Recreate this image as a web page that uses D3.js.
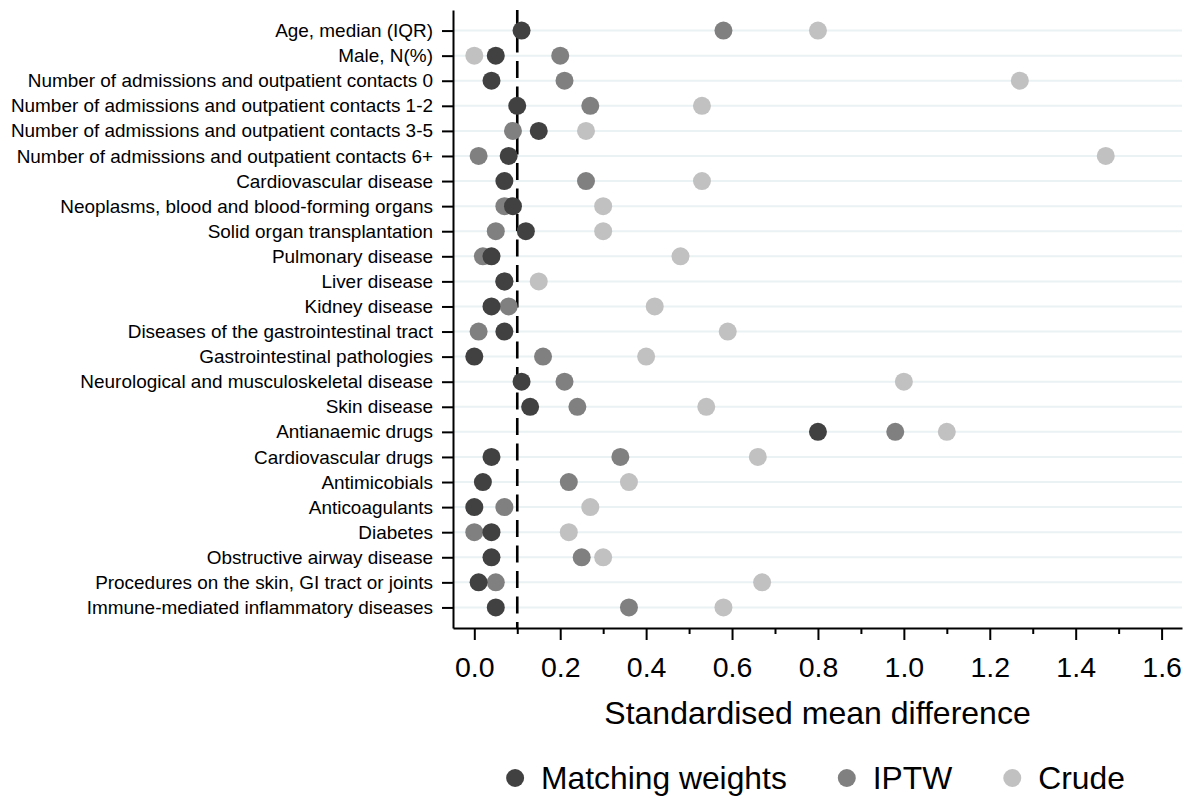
<!DOCTYPE html>
<html>
<head>
<meta charset="utf-8">
<script src="https://cdn.jsdelivr.net/npm/d3@7"></script>
<style>
  body { margin: 0; background: #fff; }
  text { font-family: "Liberation Sans", Arial, sans-serif; fill: #000; }
</style>
</head>
<body>
<div id="chart"></div>
<script>
const categories = [
  'Age, median (IQR)',
  'Male, N(%)',
  'Number of admissions and outpatient contacts 0',
  'Number of admissions and outpatient contacts 1-2',
  'Number of admissions and outpatient contacts 3-5',
  'Number of admissions and outpatient contacts 6+',
  'Cardiovascular disease',
  'Neoplasms, blood and blood-forming organs',
  'Solid organ transplantation',
  'Pulmonary disease',
  'Liver disease',
  'Kidney disease',
  'Diseases of the gastrointestinal tract',
  'Gastrointestinal pathologies',
  'Neurological and musculoskeletal disease',
  'Skin disease',
  'Antianaemic drugs',
  'Cardiovascular drugs',
  'Antimicobials',
  'Anticoagulants',
  'Diabetes',
  'Obstructive airway disease',
  'Procedures on the skin, GI tract or joints',
  'Immune-mediated inflammatory diseases'
];

const matching = [0.11, 0.05, 0.04, 0.10, 0.15, 0.08, 0.07, 0.09, 0.12, 0.04, 0.07, 0.04,
  0.07, 0.00, 0.11, 0.13, 0.80, 0.04, 0.02, 0.00, 0.04, 0.04, 0.01, 0.05];
const iptw = [0.58, 0.20, 0.21, 0.27, 0.09, 0.01, 0.26, 0.07, 0.05, 0.02, 0.07, 0.08,
  0.01, 0.16, 0.21, 0.24, 0.98, 0.34, 0.22, 0.07, 0.00, 0.25, 0.05, 0.36];
const crude = [0.80, 0.00, 1.27, 0.53, 0.26, 1.47, 0.53, 0.30, 0.30, 0.48, 0.15, 0.42,
  0.59, 0.40, 1.00, 0.54, 1.10, 0.66, 0.36, 0.27, 0.22, 0.30, 0.67, 0.58];

const seriesNames = ['Matching weights', 'IPTW', 'Crude'];
const majorTicks = [0, 0.2, 0.4, 0.6, 0.8, 1.0, 1.2, 1.4, 1.6];
const minorTicks = [0.1, 0.3, 0.5, 0.7, 0.9, 1.1, 1.3, 1.5];
const threshold = 0.1;

const width = 1195, height = 797;
const plotLeft = 453, plotRight = 1182, plotTop = 10, plotBottom = 628;
const colors = { 'Matching weights': '#414141', 'IPTW': '#808080', 'Crude': '#c1c1c1' };

const svg = d3.select('#chart')
  .append('svg')
  .attr('width', width)
  .attr('height', height);

// x(0) sits ~21px right of the y axis, 1.6 sits ~20px left of the right edge
const x = d3.scaleLinear()
  .domain([-0.0496, 1.6475])
  .range([plotLeft, plotRight]);

const y = d3.scalePoint()
  .domain(categories)
  .range([plotTop, plotBottom])
  .padding(0.82);

// light row guides
svg.append('g')
  .selectAll('line')
  .data(categories)
  .join('line')
  .attr('x1', plotLeft)
  .attr('x2', plotRight)
  .attr('y1', d => y(d))
  .attr('y2', d => y(d))
  .attr('stroke', '#eaf2f4')
  .attr('stroke-width', 2);

// reference line at 0.1, sits under the points
svg.append('line')
  .attr('x1', x(threshold))
  .attr('x2', x(threshold))
  .attr('y1', plotTop)
  .attr('y2', plotBottom)
  .attr('stroke', '#000')
  .attr('stroke-width', 2.6)
  .attr('stroke-dasharray', '17,8.5');

// y axis
const yAxis = svg.append('g')
  .attr('transform', `translate(${plotLeft},0)`)
  .call(d3.axisLeft(y).tickSize(11).tickSizeOuter(0).tickPadding(9));
yAxis.select('.domain').attr('stroke-width', 2);
yAxis.selectAll('.tick line').attr('stroke-width', 2);
yAxis.selectAll('.tick text')
  .style('font-size', '18.95px')
  .style('font-family', '"Liberation Sans", Arial, sans-serif')
  .attr('fill', '#000');

// x axis, minor ticks first then major ticks with labels
const xMinor = svg.append('g')
  .attr('transform', `translate(0,${plotBottom})`)
  .call(d3.axisBottom(x).tickValues(minorTicks).tickSize(6).tickSizeOuter(0).tickFormat(''));
xMinor.select('.domain').remove();
xMinor.selectAll('.tick line').attr('stroke-width', 2);

const xAxis = svg.append('g')
  .attr('transform', `translate(0,${plotBottom})`)
  .call(d3.axisBottom(x).tickValues(majorTicks).tickSize(12).tickSizeOuter(0)
    .tickPadding(17).tickFormat(d3.format('.1f')));
xAxis.select('.domain').attr('stroke-width', 2);
xAxis.selectAll('.tick line').attr('stroke-width', 2);
xAxis.selectAll('.tick text')
  .style('font-size', '28.5px')
  .style('font-family', '"Liberation Sans", Arial, sans-serif')
  .attr('fill', '#000');

svg.append('text')
  .attr('x', (plotLeft + plotRight) / 2)
  .attr('y', 724)
  .attr('text-anchor', 'middle')
  .style('font-size', '32px')
  .text('Standardised mean difference');

// points: crude underneath, matching weights on top
const series = [
  { name: 'Crude', values: crude },
  { name: 'IPTW', values: iptw },
  { name: 'Matching weights', values: matching }
];

series.forEach(s => {
  svg.append('g')
    .attr('fill', colors[s.name])
    .selectAll('circle')
    .data(s.values)
    .join('circle')
    .attr('cx', d => x(d))
    .attr('cy', (d, i) => y(categories[i]))
    .attr('r', 9);
});

// legend, centred under the plot
const legend = svg.append('g');
const items = legend.selectAll('g')
  .data(seriesNames)
  .join('g');
items.append('circle')
  .attr('r', 9)
  .attr('cy', -11)
  .attr('fill', d => colors[d]);
items.append('text')
  .attr('x', 26)
  .style('font-size', '31.8px')
  .text(d => d);

let offset = 0;
items.each(function() {
  const w = 26 + this.querySelector('text').getComputedTextLength();
  d3.select(this).attr('transform', `translate(${offset},789)`);
  offset += w + 60;
});
offset -= 60;
legend.attr('transform', `translate(${(plotLeft + plotRight) / 2 - (offset + 9) / 2 + 7},0)`);
</script>
</body>
</html>
